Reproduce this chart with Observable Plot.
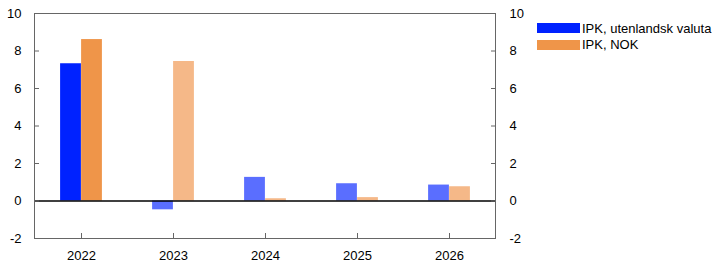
<!DOCTYPE html>
<html>
<head>
<meta charset="utf-8">
<script src="https://cdn.jsdelivr.net/npm/d3@7"></script>
<script src="https://cdn.jsdelivr.net/npm/@observablehq/plot@0.6"></script>
<style>
  body { margin: 0; background: #fff; font-family: "Liberation Sans", Arial, sans-serif; }
  #wrap { position: relative; width: 722px; height: 272px; }
  #legend { position: absolute; left: 537px; top: 20px; font-size: 13px; color: #000; }
  .item { display: flex; align-items: center; height: 16.5px; }
  .sw { width: 43px; height: 10px; margin-right: 2px; }
</style>
</head>
<body>
<div id="wrap"><div id="legend"></div></div>
<script>
const years = ["2022", "2023", "2024", "2025", "2026"];
const seriesNames = ["IPK, utenlandsk valuta", "IPK, NOK"];
const foreignValues = [7.32, -0.47, 1.26, 0.92, 0.85];
const nokValues = [8.61, 7.44, 0.12, 0.18, 0.76];
const yTicks = [-2, 0, 2, 4, 6, 8, 10];
const colorsDark = ["#0022ff", "#ef9549"];
const colorsLight = ["#5a6eff", "#f5b888"];

const foreign = years.map((y, i) => ({year: y, value: foreignValues[i]}));
const nok = years.map((y, i) => ({year: y, value: nokValues[i]}));
const fillFor = (k) => (d) => d.year === years[0] ? colorsDark[k] : colorsLight[k];
const fmt = (v) => String(v);

const chart = Plot.plot({
  width: 722,
  height: 272,
  marginLeft: 34,
  marginRight: 227,
  marginTop: 13,
  marginBottom: 34,
  style: {fontFamily: "Liberation Sans, Arial, sans-serif", fontSize: "13px", color: "#000"},
  x: {domain: years, padding: 0, label: null},
  y: {domain: [-2, 10], label: null},
  marks: [
    Plot.barY(foreign, {x: "year", y: "value", fill: fillFor(0), insetLeft: 25.1, insetRight: 46.1}),
    Plot.barY(nok, {x: "year", y: "value", fill: fillFor(1), insetLeft: 46.1, insetRight: 25.1}),
    Plot.ruleY([0], {stroke: "#000", strokeWidth: 1.3}),
    Plot.frame({stroke: "#666"}),
    Plot.axisY({anchor: "left", ticks: yTicks, tickFormat: fmt, tickSize: -5, tickPadding: 18, stroke: "#666", fill: "#000", label: null}),
    Plot.axisY({anchor: "right", ticks: yTicks, tickFormat: fmt, tickSize: -5, tickPadding: 19, stroke: "#666", fill: "#000", textAnchor: "start", label: null}),
    Plot.axisX({anchor: "bottom", tickSize: -5, tickPadding: 17, stroke: "#666", fill: "#000", label: null})
  ]
});
document.getElementById("wrap").prepend(chart);

const legend = document.getElementById("legend");
seriesNames.forEach((name, k) => {
  const item = document.createElement("div");
  item.className = "item";
  const sw = document.createElement("div");
  sw.className = "sw";
  sw.style.background = colorsDark[k];
  const t = document.createElement("span");
  t.textContent = name;
  item.appendChild(sw);
  item.appendChild(t);
  legend.appendChild(item);
});
</script>
</body>
</html>
